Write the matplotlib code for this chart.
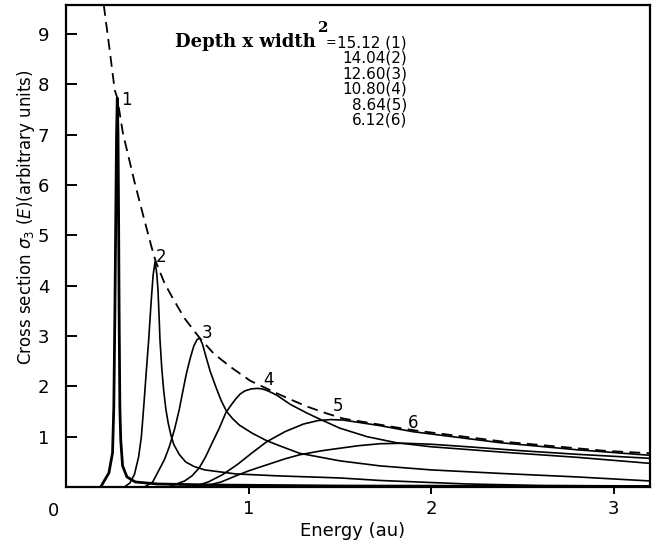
import numpy as np
import matplotlib
matplotlib.use("Agg")
import matplotlib.pyplot as plt

# values (energy in au, cross section in arb. units)
c1_x = [0.19, 0.235, 0.255, 0.262, 0.268, 0.273, 0.277, 0.281, 0.285, 0.288, 0.291, 0.295, 0.300, 0.310, 0.334, 0.38, 0.5, 0.8, 1.5, 3.2]
c1_y = [0.0, 0.28, 0.68, 1.6, 3.5, 5.5, 7.0, 7.73, 7.0, 5.5, 3.5, 1.6, 0.93, 0.42, 0.2, 0.1, 0.06, 0.04, 0.02, 0.01]

c2_x = [0.32, 0.35, 0.375, 0.398, 0.413, 0.426, 0.44, 0.453, 0.465, 0.477, 0.488, 0.497, 0.504, 0.51, 0.515, 0.525, 0.535,
        0.547, 0.56, 0.575, 0.59, 0.62, 0.655, 0.7, 0.76, 0.93, 1.17, 1.5, 1.72, 2.2, 2.6, 3.2]
c2_y = [0.0, 0.08, 0.25, 0.6, 1.0, 1.6, 2.3, 2.92, 3.6, 4.2, 4.48, 4.25, 3.92, 3.4, 2.92, 2.35, 1.93,
        1.55, 1.27, 1.03, 0.85, 0.65, 0.5, 0.41, 0.34, 0.26, 0.22, 0.18, 0.13, 0.06, 0.03, 0.02]

c3_x = [0.43, 0.475, 0.51, 0.54, 0.566, 0.595, 0.62, 0.64, 0.66, 0.68, 0.7, 0.718, 0.733, 0.748, 0.767, 0.79, 0.82, 0.85,
        0.88, 0.915, 0.95, 1.02, 1.1, 1.17, 1.28, 1.5, 1.72, 2.0, 2.38, 2.8, 3.2]
c3_y = [0.0, 0.1, 0.34, 0.55, 0.8, 1.15, 1.53, 1.9, 2.26, 2.55, 2.8, 2.93, 2.96, 2.84, 2.59, 2.3, 2.0, 1.72,
        1.5, 1.35, 1.23, 1.07, 0.92, 0.82, 0.67, 0.52, 0.42, 0.34, 0.27, 0.2, 0.12]

c4_x = [0.56, 0.65, 0.69, 0.73, 0.765, 0.80, 0.84, 0.875, 0.905, 0.93, 0.955, 0.98, 1.015, 1.047, 1.075, 1.10, 1.13, 1.157,
        1.23, 1.32, 1.39, 1.5, 1.65, 1.81, 2.0, 2.4, 2.8, 3.2]
c4_y = [0.0, 0.12, 0.22, 0.38, 0.6, 0.87, 1.17, 1.47, 1.63, 1.75, 1.85, 1.91, 1.95, 1.96, 1.95, 1.92, 1.87, 1.82,
        1.64, 1.47, 1.35, 1.17, 1.0, 0.88, 0.8, 0.69, 0.59, 0.47]

c5_x = [0.69, 0.78, 0.86, 0.94, 1.02, 1.1, 1.2, 1.3, 1.38, 1.45, 1.52, 1.72, 1.9, 2.38, 2.8, 3.2]
c5_y = [0.0, 0.1, 0.25, 0.45, 0.68, 0.9, 1.1, 1.25, 1.32, 1.34, 1.33, 1.22, 1.1, 0.88, 0.74, 0.63]

c6_x = [0.74, 0.85, 0.93, 1.0, 1.1, 1.2, 1.28, 1.4, 1.5, 1.6, 1.72, 1.85, 2.0, 2.2, 2.5, 2.8, 3.2]
c6_y = [0.0, 0.1, 0.22, 0.32, 0.44, 0.56, 0.64, 0.72, 0.77, 0.82, 0.86, 0.87, 0.85, 0.8, 0.72, 0.65, 0.57]

env_x = [0.207, 0.239, 0.267, 0.281, 0.312, 0.377, 0.43, 0.468, 0.49, 0.54, 0.59, 0.65, 0.733, 0.81, 0.90, 1.01, 1.157,
         1.23, 1.32, 1.43, 1.52, 1.9, 2.4, 2.95, 3.2]
env_y = [9.58, 8.69, 7.89, 7.73, 7.03, 6.04, 5.3, 4.78, 4.5, 4.05, 3.72, 3.35, 2.96, 2.65, 2.39, 2.11, 1.86,
         1.74, 1.6, 1.46, 1.36, 1.13, 0.9, 0.72, 0.67]

curves = [(c1_x, c1_y), (c2_x, c2_y), (c3_x, c3_y), (c4_x, c4_y), (c5_x, c5_y), (c6_x, c6_y)]
peak_labels = ["1", "2", "3", "4", "5", "6"]
label_x = [0.33, 0.52, 0.775, 1.11, 1.49, 1.90]
label_y = [7.7, 4.58, 3.06, 2.13, 1.6, 1.27]

depth_width = ["15.12 (1)", "14.04(2)", "12.60(3)", "10.80(4)", "8.64(5)", "6.12(6)"]

fig = plt.figure(figsize=(6.56, 5.49), dpi=100)
ax = fig.add_axes([66 / 656, 1 - 487 / 549, 584 / 656, 482 / 549])

for i, (cx, cy) in enumerate(curves):
    lw = 2.0 if i == 0 else 1.2
    ax.plot(cx, cy, color="black", lw=lw, solid_joinstyle="round")
    ax.text(label_x[i], label_y[i], peak_labels[i], fontsize=12, ha="center", va="center")

ax.plot(env_x, env_y, color="black", lw=1.3, dashes=(6, 3.5))

ax.set_xlim(0, 3.2)
ax.set_ylim(0, 9.58)
for s in ax.spines.values():
    s.set_linewidth(1.6)

ax.set_xticks([1, 2, 3])
ax.set_yticks(range(1, 10))
ax.tick_params(axis="x", direction="out", length=5, width=1.4, labelsize=13, pad=4)
ax.tick_params(axis="y", direction="in", length=8, width=1.4, labelsize=13, pad=12)
ax.text(-0.07, -0.3, "0", fontsize=13, ha="center", va="top")

ax.set_xlabel("Energy (au)", fontsize=13)
ax.xaxis.set_label_coords(0.49, -0.072)
ax.set_ylabel(r"Cross section $\sigma_3$ ($E$)(arbitrary units)", fontsize=12)
ax.yaxis.set_label_coords(-0.05, 0.56)

# annotation block
ax.text(0.597, 8.75, "Depth x width", fontsize=13, family="DejaVu Serif", weight="bold", ha="left", va="baseline")
ax.text(1.41, 9.12, "2", fontsize=11, family="DejaVu Serif", weight="bold", ha="center", va="center")
ax.text(1.452, 8.83, "=", fontsize=9, ha="center", va="center")
row_y = [8.83, 8.52, 8.21, 7.91, 7.6, 7.3]
for t, yy in zip(depth_width, row_y):
    ax.text(1.868, yy, t, fontsize=11, ha="right", va="center")

fig.savefig("out.png", dpi=100)
